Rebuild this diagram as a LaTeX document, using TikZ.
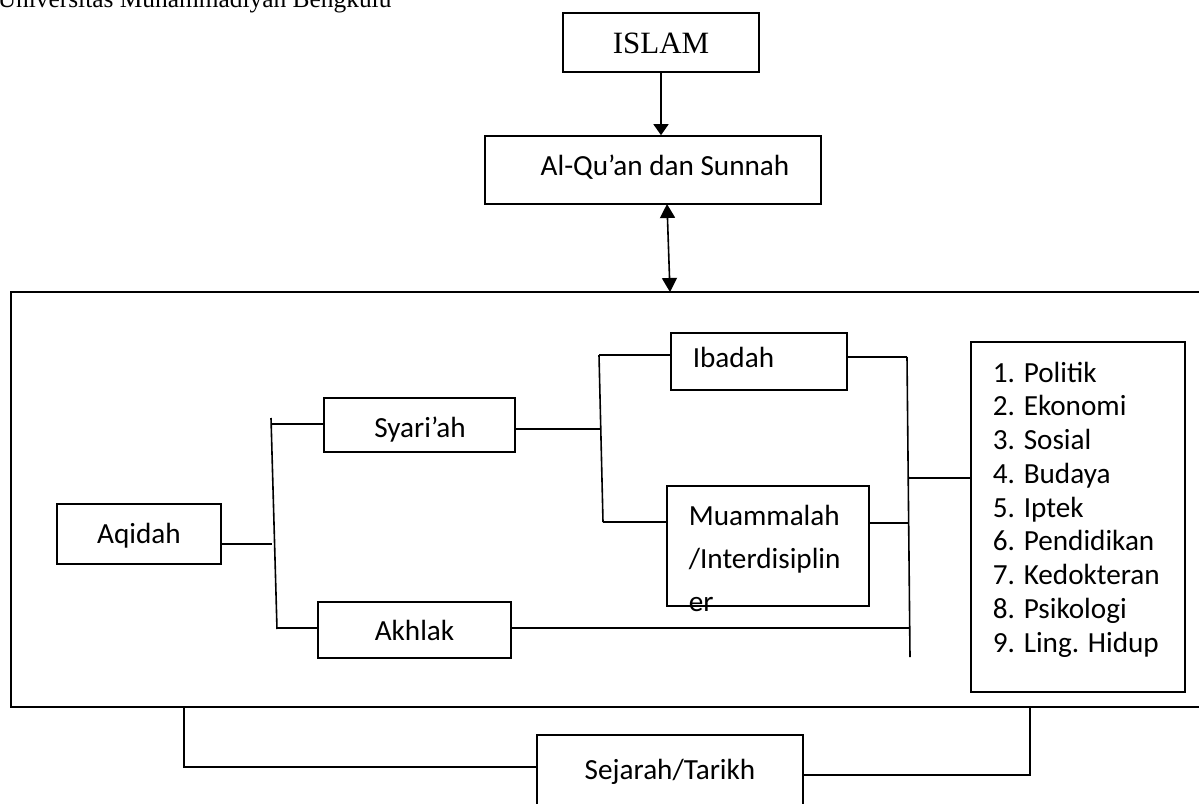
\documentclass[tikz,border=0pt]{standalone}
\usepackage{fontspec}
\setmainfont{Carlito}
\newfontfamily\serif{Liberation Serif}
\usetikzlibrary{arrows.meta}
\begin{document}
\begin{tikzpicture}[x=1pt,y=-1pt,line width=1.6pt,
  box/.style={draw,rectangle,inner sep=0pt},
  lbl/.style={inner sep=0pt,anchor=base,font=\fontsize{29.2}{33.75}\selectfont},
  tri/.style={-{Triangle[length=11pt,width=15pt]}},
  dbl/.style={{Triangle[length=14pt,width=15pt]}-{Triangle[length=14pt,width=15pt]}}]
\useasboundingbox (0,0) rectangle (1199,803);
\clip (0,0) rectangle (1199,803);
\fill[white] (0,0) rectangle (1199,803);
% header
\node[inner sep=0pt,anchor=base west,font=\serif\fontsize{25.4}{30}\selectfont] (hdr) at (-3,8) {Universitas Muhammadiyah Bengkulu};
% top boxes
\node[box,minimum width=196pt,minimum height=59pt] (islam) at (661,42.5) {};
\node[lbl,font=\serif\fontsize{31}{36}\selectfont] (islamT) at (661,53) {ISLAM};
\node[box,minimum width=336pt,minimum height=68pt] (quran) at (653,170) {};
\node[lbl] (quranT) at (665,175) {Al-Qu’an dan Sunnah};
\draw[tri] (islam.south) -- (islam.south |- quran.north);
% frame
\coordinate (fTR) at (1205,292);
\coordinate (fTL) at (11,292);
\coordinate (fBL) at (11,707);
\coordinate (fBR) at (1205,707);
\draw (fTR) -- (fTL) -- (fBL) -- (fBR);
\coordinate (dA) at (667,204);
\coordinate (dB) at (670,292);
\draw[dbl] (dA) -- (dB);
% inner boxes
\node[box,minimum width=164pt,minimum height=60pt] (aqidah) at (139,534) {};
\node[lbl] (aqidahT) at (139,543) {Aqidah};
\node[box,minimum width=191pt,minimum height=54pt] (syariah) at (419.5,425) {};
\node[lbl] (syariahT) at (420,437) {Syari’ah};
\node[box,minimum width=193pt,minimum height=56pt] (akhlak) at (414.5,630) {};
\node[lbl] (akhlakT) at (414.5,640) {Akhlak};
\node[box,minimum width=176pt,minimum height=57pt] (ibadah) at (759,361.5) {};
\node[lbl,anchor=base west] (ibadahT) at (692,367) {Ibadah};
\node[box,minimum width=202pt,minimum height=120pt] (muam) at (768,546) {};
\node[lbl,anchor=base west] (muam1) at (688,525) {Muammalah};
\node[lbl,anchor=base west] (muam2) at (688,568) {/Interdisiplin};
\node[lbl,anchor=base west] (muam3) at (688,611) {er};
\node[box,minimum width=214pt,minimum height=350pt] (list) at (1078,517) {};
\foreach \t [count=\i] in {1. Politik,2. Ekonomi,3. Sosial,4. Budaya,5. Iptek,6. Pendidikan,7. Kedokteran,8. Psikologi,9. Ling. Hidup}
  \node[lbl,anchor=base west] (li\i) at (992,{382+33.75*(\i-1)}) {\t};
% left bracket
\coordinate (jA1) at (271,418);
\coordinate (jA2) at (277,629);
\coordinate (jA) at (272,544);
\coordinate (jS) at (271,424);
\coordinate (jK) at (277,628);
\draw (jA1) -- (jA2);
\draw (jA -| aqidah.east) -- (jA);
\draw (jS) -- (jS -| syariah.west);
\draw (jK) -- (jK -| akhlak.west);
% middle bracket
\coordinate (jB1) at (599,355);
\coordinate (jB2) at (603,522);
\coordinate (jB) at (601,429);
\draw (jB1) -- (jB2);
\draw (jB -| syariah.east) -- (jB);
\draw (jB1) -- (jB1 -| ibadah.west);
\draw (jB2) -- (jB2 -| muam.west);
% right bracket
\coordinate (jC1) at (907,357);
\coordinate (jC2) at (910,657);
\coordinate (jCm) at (908,523);
\coordinate (jCk) at (910,628);
\coordinate (jCl) at (909,478);
\draw (jC1) -- (jC2);
\draw (jC1 -| ibadah.east) -- (jC1);
\draw (jCm -| muam.east) -- (jCm);
\draw (jCk -| akhlak.east) -- (jCk);
\draw (jCl) -- (jCl -| list.west);
% sejarah
\node[box,minimum width=266pt,minimum height=100pt] (sejarah) at (670,785) {};
\node[lbl] (sejarahT) at (670,779) {Sejarah/Tarikh};
\coordinate (sL1) at (184,707);
\coordinate (sL2) at (184,767);
\coordinate (sR1) at (1030,707);
\coordinate (sR2) at (1030,775);
\draw (sL1) -- (sL2) -- (sL2 -| sejarah.west);
\draw (sR2 -| sejarah.east) -- (sR2) -- (sR1);
\end{tikzpicture}
\end{document}
